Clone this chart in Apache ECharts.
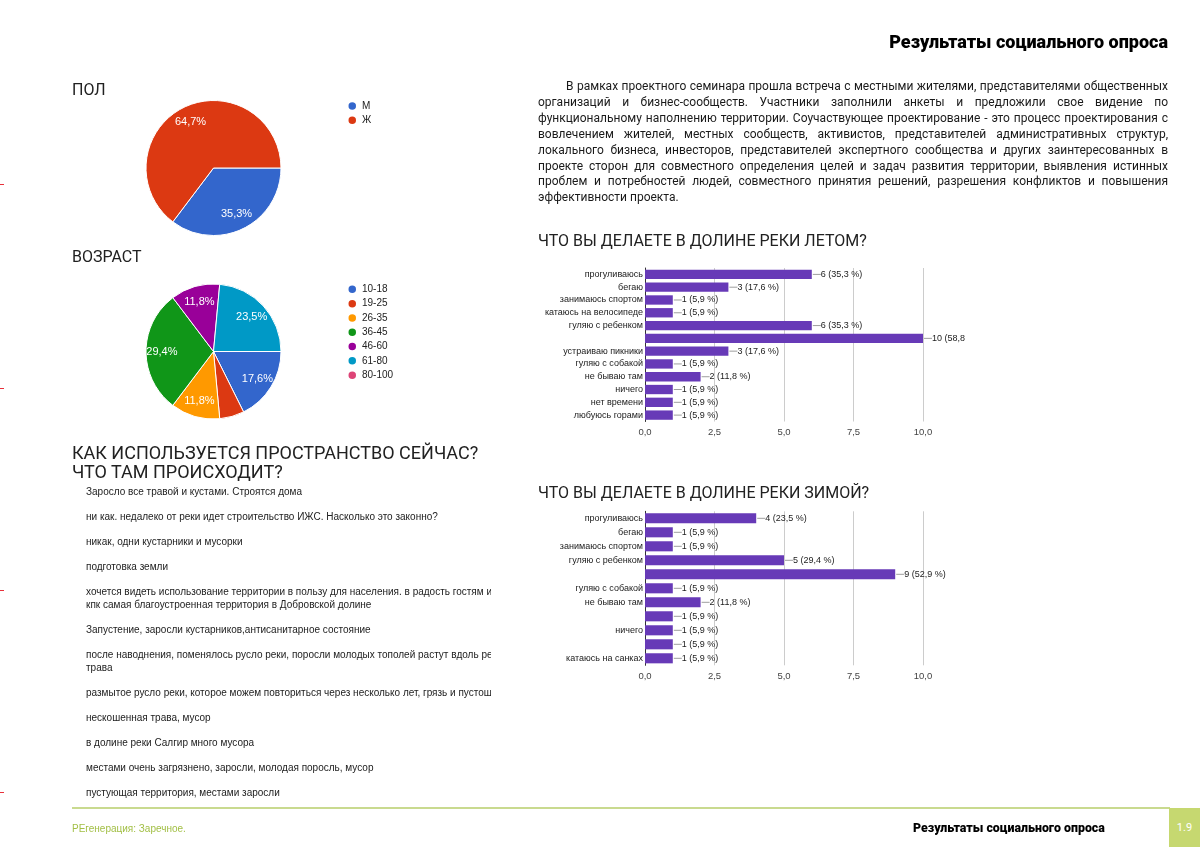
<!DOCTYPE html>
<html lang="ru">
<head>
<meta charset="utf-8">
<title>Результаты социального опроса</title>
<script src="https://cdn.jsdelivr.net/npm/echarts@6/dist/echarts.min.js"></script>
<style>
  html, body { margin: 0; padding: 0; background: #fff; }
  .page { position: relative; width: 1200px; height: 854px; overflow: hidden; font-family: Roboto, "Liberation Sans", sans-serif; color: #222; }
  #chart { position: absolute; left: 0; top: 0; width: 1200px; height: 854px; }
  .abs { position: absolute; white-space: nowrap; }
  .head { right: 32px; top: 31px; font-size: 18px; font-weight: 900; line-height: 22px; color: #000; }
  .sect { font-size: 16px; line-height: 19px; color: #212121; }
  .sect.big { font-size: 18px; }
  .para { left: 538px; top: 79px; width: 630px; font-size: 12px; line-height: 15.9px; color: #1a1a1a; white-space: normal; }
  .para div { text-align: justify; text-align-last: justify; }
  .para div:first-child { text-indent: 28px; }
  .para div:last-child { text-align-last: left; }
  .answers { left: 86px; top: 485px; width: 405px; overflow: hidden; font-family: "Liberation Sans", Arial, sans-serif; font-size: 10px; line-height: 13.5px; color: #222; }
  .answers div { margin-bottom: 11.4px; }
  .foot-line { left: 72px; top: 807px; width: 1098px; height: 1.5px; background: #c9da8f; }
  .foot-box { left: 1169px; top: 808px; width: 31px; height: 39px; background: #c6d870; color: #fff; font-size: 11px; line-height: 39px; text-align: center; }
  .foot-left { left: 72px; top: 821px; font-family: "Liberation Sans", Arial, sans-serif; font-size: 10px; line-height: 15px; color: #a2bf45; }
  .foot-right { left: 913px; top: 820px; font-size: 12.4px; font-weight: 900; line-height: 16px; color: #000; }
  .mark { left: 0; width: 4px; height: 1px; background: #e8303a; }
</style>
</head>
<body>
<div class="page">
  <div id="chart"></div>
  <div class="abs head">Результаты социального опроса</div>
  <div class="abs sect" style="left:72px;top:80px">ПОЛ</div>
  <div class="abs sect" style="left:72px;top:247px">ВОЗРАСТ</div>
  <div class="abs sect big" style="left:72px;top:443px">КАК ИСПОЛЬЗУЕТСЯ ПРОСТРАНСТВО СЕЙЧАС?<br>ЧТО ТАМ ПРОИСХОДИТ?</div>
  <div class="abs sect" id="summerTitle" style="left:538px;top:231px"></div>
  <div class="abs sect" id="winterTitle" style="left:538px;top:483px"></div>
  <div class="abs para" id="para"></div>
  <div class="abs answers" id="answers"></div>
  <div class="abs foot-line"></div>
  <div class="abs foot-box">1.9</div>
  <div class="abs foot-left">РЕгенерация: Заречное.</div>
  <div class="abs foot-right">Результаты социального опроса</div>
  <div class="abs mark" style="top:184px"></div>
  <div class="abs mark" style="top:388px"></div>
  <div class="abs mark" style="top:590px"></div>
  <div class="abs mark" style="top:792px"></div>
</div>
<script>
// --- данные опроса ---
const respondents = 17

const genderNames = [ 'М', 'Ж' ]
const genderValues = [ 6, 11 ]
const genderColors = [ '#3366cc', '#dc3912' ]

const ageNames = [ '10-18', '19-25', '26-35', '36-45', '46-60', '61-80', '80-100' ]
const ageValues = [ 3, 1, 2, 5, 2, 4, 0 ]
const ageColors = [ '#3366cc', '#dc3912', '#ff9900', '#109618', '#990099', '#0099c6', '#dd4477' ]

const summerTitle = 'ЧТО ВЫ ДЕЛАЕТЕ В ДОЛИНЕ РЕКИ ЛЕТОМ?'
const summerCategories = [ 'прогуливаюсь', 'бегаю', 'занимаюсь спортом', 'катаюсь на велосипеде',
  'гуляю с ребенком', '', 'устраиваю пикники', 'гуляю с собакой', 'не бываю там', 'ничего',
  'нет времени', 'любуюсь горами' ]
const summerValues = [ 6, 3, 1, 1, 6, 10, 3, 1, 2, 1, 1, 1 ]

const winterTitle = 'ЧТО ВЫ ДЕЛАЕТЕ В ДОЛИНЕ РЕКИ ЗИМОЙ?'
const winterCategories = [ 'прогуливаюсь', 'бегаю', 'занимаюсь спортом', 'гуляю с ребенком', '',
  'гуляю с собакой', 'не бываю там', ' ', 'ничего', '  ', 'катаюсь на санках' ]
const winterValues = [ 4, 1, 1, 5, 9, 1, 2, 1, 1, 1, 1 ]

const xMin = 0
const xMax = 10
const xStep = 2.5

const paragraphLines = [
  'В рамках проектного семинара прошла встреча с местными жителями, представителями общественных',
  'организаций и бизнес-сообществ. Участники заполнили анкеты и предложили свое видение по',
  'функциональному наполнению территории. Соучаствующее проектирование - это процесс проектирования с',
  'вовлечением жителей, местных сообществ, активистов, представителей административных структур,',
  'локального бизнеса, инвесторов, представителей экспертного сообщества и других заинтересованных в',
  'проекте сторон для совместного определения целей и задач развития территории, выявления истинных',
  'проблем и потребностей людей, совместного принятия решений, разрешения конфликтов и повышения',
  'эффективности проекта.'
]

const answers = [
  [ 'Заросло все травой и кустами. Строятся дома' ],
  [ 'ни как. недалеко от реки идет строительство ИЖС. Насколько это законно?' ],
  [ 'никак, одни кустарники и мусорки' ],
  [ 'подготовка земли' ],
  [ 'хочется видеть использование территории в пользу для населения. в радость гостям и',
    'кпк самая благоустроенная территория в Добровской долине' ],
  [ 'Запустение, заросли кустарников,антисанитарное состояние' ],
  [ 'после наводнения, поменялось русло реки, поросли молодых тополей растут вдоль реки',
    'трава' ],
  [ 'размытое русло реки, которое можем повториться через несколько лет, грязь и пустошь' ],
  [ 'нескошенная трава, мусор' ],
  [ 'в долине реки Салгир много мусора' ],
  [ 'местами очень загрязнено, заросли, молодая поросль, мусор' ],
  [ 'пустующая территория, местами заросли' ]
]

// --- тексты ---
document.getElementById( 'summerTitle' ).textContent = summerTitle
document.getElementById( 'winterTitle' ).textContent = winterTitle
document.getElementById( 'para' ).innerHTML = paragraphLines.map( l => '<div>' + l + '</div>' ).join( '' )
document.getElementById( 'answers' ).innerHTML = answers.map( a => '<div>' + a.join( '<br>' ) + '</div>' ).join( '' )

// --- графики ---
const chart = echarts.init( document.getElementById( 'chart' ), null, { renderer: 'canvas' } )
const labelFont = '"Liberation Sans", Arial, sans-serif'
const comma = n => String( n ).replace( '.', ',' )

function pieSeries ( names, values, colors, center ) {
  const r = 67.5
  return [
    {
      type: 'pie',
      center,
      radius: [ 0, r ],
      startAngle: 0,
      clockwise: true,
      animation: false,
      data: names.map( ( n, i ) => ( { name: n, value: values[ i ], itemStyle: { color: colors[ i ] } } ) ),
      itemStyle: { borderColor: '#fff', borderWidth: 1 },
      label: { show: false },
      labelLine: { show: false },
      emphasis: { scale: false }
    },
    {
      // прозрачный слой только для подписей (ближе к краю, как в Google Forms)
      type: 'pie',
      center,
      radius: [ r * 0.44, r ],
      startAngle: 0,
      clockwise: true,
      silent: true,
      animation: false,
      percentPrecision: 1,
      data: names.map( ( n, i ) => ( { name: n, value: values[ i ] } ) ),
      itemStyle: { color: 'rgba(0,0,0,0)' },
      label: {
        show: true,
        position: 'inside',
        color: '#fff',
        fontSize: 11,
        fontFamily: labelFont,
        formatter: p => p.percent < 10 ? '' : comma( p.percent ) + '%'
      },
      labelLine: { show: false }
    }
  ]
}

function barParts ( idx, categories, values, top, height, gap ) {
  const maxV = Math.max( ...values )
  return {
    grid: { left: 645, width: 278, top, height },
    xAxis: {
      gridIndex: idx, type: 'value', min: xMin, max: xMax, interval: xStep,
      axisLine: { show: false }, axisTick: { show: false },
      splitLine: { lineStyle: { color: '#cccccc' } },
      axisLabel: { color: '#444', fontSize: 9.5, fontFamily: labelFont, margin: 6, formatter: v => v.toFixed( 1 ).replace( '.', ',' ) }
    },
    yAxis: {
      gridIndex: idx, type: 'category', inverse: true, data: categories,
      axisLine: { show: true, lineStyle: { color: '#333', width: 1 } },
      axisTick: { show: false },
      axisLabel: { color: '#1a1a1a', fontSize: 9, fontFamily: labelFont, margin: 2, interval: 0 }
    },
    series: {
      type: 'bar', xAxisIndex: idx, yAxisIndex: idx, barCategoryGap: gap, animation: false,
      itemStyle: { color: '#673ab7' },
      data: values.map( v => v === maxV && idx === 0
        ? { value: v, label: { width: 46, overflow: 'truncate', ellipsis: '' } }
        : v ),
      label: {
        show: true, position: 'right', distance: 1,
        color: '#222', fontSize: 9, fontFamily: labelFont,
        formatter: p => '{ln|}' + p.value + ' (' + comma( ( p.value / respondents * 100 ).toFixed( 1 ) ) + ' %)',
        rich: { ln: { width: 8, height: 1, backgroundColor: '#9e9e9e' } }
      }
    }
  }
}

const summer = barParts( 0, summerCategories, summerValues, 268, 153.5, '27%' )
const winter = barParts( 1, winterCategories, winterValues, 511.3, 154, '28%' )

const legendBase = {
  orient: 'vertical', left: 346.5, padding: 0, icon: 'circle',
  itemWidth: 9.5, itemHeight: 9.5, itemGap: 2.8, selectedMode: false,
  textStyle: { fontSize: 10, lineHeight: 10, color: '#222', fontFamily: labelFont }
}

chart.setOption( {
  animation: false,
  legend: [
    { ...legendBase, top: 100.3, data: genderNames },
    { ...legendBase, top: 283.6, data: ageNames }
  ],
  grid: [ summer.grid, winter.grid ],
  xAxis: [ summer.xAxis, winter.xAxis ],
  yAxis: [ summer.yAxis, winter.yAxis ],
  series: [
    ...pieSeries( genderNames, genderValues, genderColors, [ 213.5, 168 ] ),
    ...pieSeries( ageNames, ageValues, ageColors, [ 213.5, 351.5 ] ),
    summer.series,
    winter.series
  ]
} )
</script>
</body>
</html>
